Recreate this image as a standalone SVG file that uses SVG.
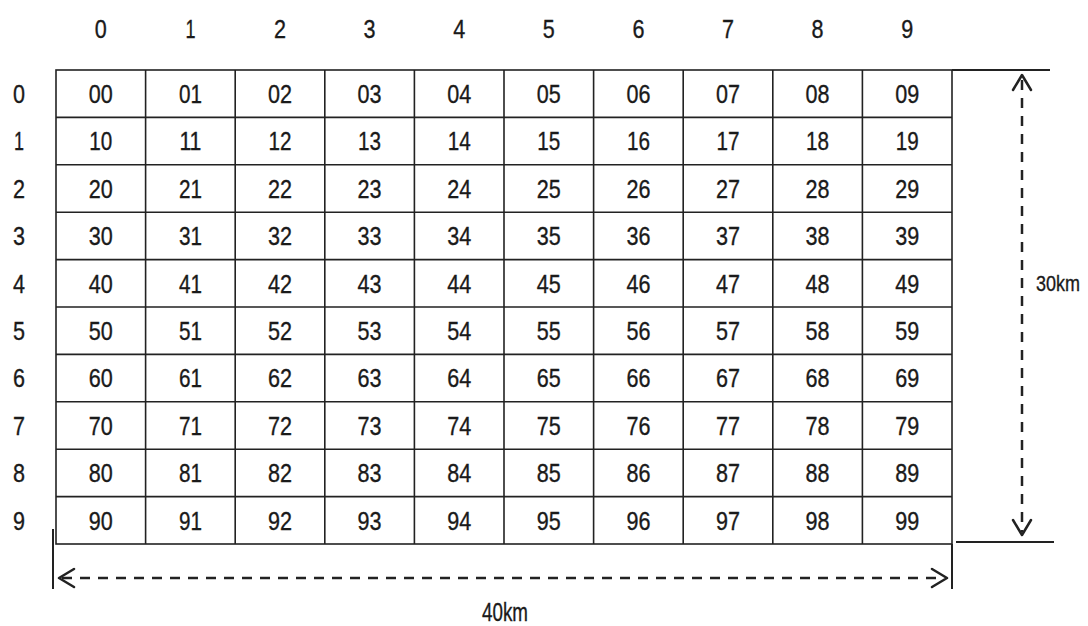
<svg xmlns="http://www.w3.org/2000/svg" width="1088" height="626" viewBox="0 0 1088 626">
<style>
text{font-family:"Liberation Sans",Arial,sans-serif;font-size:25.5px;fill:#1a1a1a;stroke:#1a1a1a;stroke-width:0.35;text-anchor:middle}
.g{stroke:#222;stroke-width:1.6;fill:none}
.d{stroke:#222;stroke-width:2.5;fill:none;stroke-dasharray:10 8}
.h{stroke:#222;stroke-width:2.5;fill:none;stroke-linecap:round;stroke-linejoin:round}
.e{stroke:#222;stroke-width:2;fill:none}
</style>
<rect width="1088" height="626" fill="#fff"/>
<g id="col-labels">
<text x="100.8" y="38" textLength="12" lengthAdjust="spacingAndGlyphs">0</text>
<text x="190.4" y="38" textLength="10" lengthAdjust="spacingAndGlyphs">1</text>
<text x="280" y="38" textLength="12" lengthAdjust="spacingAndGlyphs">2</text>
<text x="369.6" y="38" textLength="12" lengthAdjust="spacingAndGlyphs">3</text>
<text x="459.2" y="38" textLength="12" lengthAdjust="spacingAndGlyphs">4</text>
<text x="548.8" y="38" textLength="12" lengthAdjust="spacingAndGlyphs">5</text>
<text x="638.4" y="38" textLength="12" lengthAdjust="spacingAndGlyphs">6</text>
<text x="728" y="38" textLength="12" lengthAdjust="spacingAndGlyphs">7</text>
<text x="817.6" y="38" textLength="12" lengthAdjust="spacingAndGlyphs">8</text>
<text x="907.2" y="38" textLength="12" lengthAdjust="spacingAndGlyphs">9</text>
</g>
<g id="row-labels">
<text x="19" y="103" textLength="12" lengthAdjust="spacingAndGlyphs">0</text>
<text x="19" y="150.4" textLength="10" lengthAdjust="spacingAndGlyphs">1</text>
<text x="19" y="197.8" textLength="12" lengthAdjust="spacingAndGlyphs">2</text>
<text x="19" y="245.2" textLength="12" lengthAdjust="spacingAndGlyphs">3</text>
<text x="19" y="292.6" textLength="12" lengthAdjust="spacingAndGlyphs">4</text>
<text x="19" y="340" textLength="12" lengthAdjust="spacingAndGlyphs">5</text>
<text x="19" y="387.4" textLength="12" lengthAdjust="spacingAndGlyphs">6</text>
<text x="19" y="434.8" textLength="12" lengthAdjust="spacingAndGlyphs">7</text>
<text x="19" y="482.2" textLength="12" lengthAdjust="spacingAndGlyphs">8</text>
<text x="19" y="529.6" textLength="12" lengthAdjust="spacingAndGlyphs">9</text>
</g>
<g id="grid">
<rect class="g" x="56" y="70" width="896" height="474"/>
<path class="g" d="M145.6 70V544M235.2 70V544M324.8 70V544M414.4 70V544M504 70V544M593.6 70V544M683.2 70V544M772.8 70V544M862.4 70V544M56 117.4H952M56 164.8H952M56 212.2H952M56 259.6H952M56 307H952M56 354.4H952M56 401.8H952M56 449.2H952M56 496.6H952"/>
</g>
<g id="cells">
<text x="100.8" y="103" textLength="24" lengthAdjust="spacingAndGlyphs">00</text><text x="190.4" y="103" textLength="23" lengthAdjust="spacingAndGlyphs">01</text><text x="280" y="103" textLength="24" lengthAdjust="spacingAndGlyphs">02</text><text x="369.6" y="103" textLength="24" lengthAdjust="spacingAndGlyphs">03</text><text x="459.2" y="103" textLength="24" lengthAdjust="spacingAndGlyphs">04</text><text x="548.8" y="103" textLength="24" lengthAdjust="spacingAndGlyphs">05</text><text x="638.4" y="103" textLength="24" lengthAdjust="spacingAndGlyphs">06</text><text x="728" y="103" textLength="24" lengthAdjust="spacingAndGlyphs">07</text><text x="817.6" y="103" textLength="24" lengthAdjust="spacingAndGlyphs">08</text><text x="907.2" y="103" textLength="24" lengthAdjust="spacingAndGlyphs">09</text>
<text x="100.8" y="150.4" textLength="23" lengthAdjust="spacingAndGlyphs">10</text><text x="190.4" y="150.4" textLength="22" lengthAdjust="spacingAndGlyphs">11</text><text x="280" y="150.4" textLength="23" lengthAdjust="spacingAndGlyphs">12</text><text x="369.6" y="150.4" textLength="23" lengthAdjust="spacingAndGlyphs">13</text><text x="459.2" y="150.4" textLength="23" lengthAdjust="spacingAndGlyphs">14</text><text x="548.8" y="150.4" textLength="23" lengthAdjust="spacingAndGlyphs">15</text><text x="638.4" y="150.4" textLength="23" lengthAdjust="spacingAndGlyphs">16</text><text x="728" y="150.4" textLength="23" lengthAdjust="spacingAndGlyphs">17</text><text x="817.6" y="150.4" textLength="23" lengthAdjust="spacingAndGlyphs">18</text><text x="907.2" y="150.4" textLength="23" lengthAdjust="spacingAndGlyphs">19</text>
<text x="100.8" y="197.8" textLength="24" lengthAdjust="spacingAndGlyphs">20</text><text x="190.4" y="197.8" textLength="23" lengthAdjust="spacingAndGlyphs">21</text><text x="280" y="197.8" textLength="24" lengthAdjust="spacingAndGlyphs">22</text><text x="369.6" y="197.8" textLength="24" lengthAdjust="spacingAndGlyphs">23</text><text x="459.2" y="197.8" textLength="24" lengthAdjust="spacingAndGlyphs">24</text><text x="548.8" y="197.8" textLength="24" lengthAdjust="spacingAndGlyphs">25</text><text x="638.4" y="197.8" textLength="24" lengthAdjust="spacingAndGlyphs">26</text><text x="728" y="197.8" textLength="24" lengthAdjust="spacingAndGlyphs">27</text><text x="817.6" y="197.8" textLength="24" lengthAdjust="spacingAndGlyphs">28</text><text x="907.2" y="197.8" textLength="24" lengthAdjust="spacingAndGlyphs">29</text>
<text x="100.8" y="245.2" textLength="24" lengthAdjust="spacingAndGlyphs">30</text><text x="190.4" y="245.2" textLength="23" lengthAdjust="spacingAndGlyphs">31</text><text x="280" y="245.2" textLength="24" lengthAdjust="spacingAndGlyphs">32</text><text x="369.6" y="245.2" textLength="24" lengthAdjust="spacingAndGlyphs">33</text><text x="459.2" y="245.2" textLength="24" lengthAdjust="spacingAndGlyphs">34</text><text x="548.8" y="245.2" textLength="24" lengthAdjust="spacingAndGlyphs">35</text><text x="638.4" y="245.2" textLength="24" lengthAdjust="spacingAndGlyphs">36</text><text x="728" y="245.2" textLength="24" lengthAdjust="spacingAndGlyphs">37</text><text x="817.6" y="245.2" textLength="24" lengthAdjust="spacingAndGlyphs">38</text><text x="907.2" y="245.2" textLength="24" lengthAdjust="spacingAndGlyphs">39</text>
<text x="100.8" y="292.6" textLength="24" lengthAdjust="spacingAndGlyphs">40</text><text x="190.4" y="292.6" textLength="23" lengthAdjust="spacingAndGlyphs">41</text><text x="280" y="292.6" textLength="24" lengthAdjust="spacingAndGlyphs">42</text><text x="369.6" y="292.6" textLength="24" lengthAdjust="spacingAndGlyphs">43</text><text x="459.2" y="292.6" textLength="24" lengthAdjust="spacingAndGlyphs">44</text><text x="548.8" y="292.6" textLength="24" lengthAdjust="spacingAndGlyphs">45</text><text x="638.4" y="292.6" textLength="24" lengthAdjust="spacingAndGlyphs">46</text><text x="728" y="292.6" textLength="24" lengthAdjust="spacingAndGlyphs">47</text><text x="817.6" y="292.6" textLength="24" lengthAdjust="spacingAndGlyphs">48</text><text x="907.2" y="292.6" textLength="24" lengthAdjust="spacingAndGlyphs">49</text>
<text x="100.8" y="340" textLength="24" lengthAdjust="spacingAndGlyphs">50</text><text x="190.4" y="340" textLength="23" lengthAdjust="spacingAndGlyphs">51</text><text x="280" y="340" textLength="24" lengthAdjust="spacingAndGlyphs">52</text><text x="369.6" y="340" textLength="24" lengthAdjust="spacingAndGlyphs">53</text><text x="459.2" y="340" textLength="24" lengthAdjust="spacingAndGlyphs">54</text><text x="548.8" y="340" textLength="24" lengthAdjust="spacingAndGlyphs">55</text><text x="638.4" y="340" textLength="24" lengthAdjust="spacingAndGlyphs">56</text><text x="728" y="340" textLength="24" lengthAdjust="spacingAndGlyphs">57</text><text x="817.6" y="340" textLength="24" lengthAdjust="spacingAndGlyphs">58</text><text x="907.2" y="340" textLength="24" lengthAdjust="spacingAndGlyphs">59</text>
<text x="100.8" y="387.4" textLength="24" lengthAdjust="spacingAndGlyphs">60</text><text x="190.4" y="387.4" textLength="23" lengthAdjust="spacingAndGlyphs">61</text><text x="280" y="387.4" textLength="24" lengthAdjust="spacingAndGlyphs">62</text><text x="369.6" y="387.4" textLength="24" lengthAdjust="spacingAndGlyphs">63</text><text x="459.2" y="387.4" textLength="24" lengthAdjust="spacingAndGlyphs">64</text><text x="548.8" y="387.4" textLength="24" lengthAdjust="spacingAndGlyphs">65</text><text x="638.4" y="387.4" textLength="24" lengthAdjust="spacingAndGlyphs">66</text><text x="728" y="387.4" textLength="24" lengthAdjust="spacingAndGlyphs">67</text><text x="817.6" y="387.4" textLength="24" lengthAdjust="spacingAndGlyphs">68</text><text x="907.2" y="387.4" textLength="24" lengthAdjust="spacingAndGlyphs">69</text>
<text x="100.8" y="434.8" textLength="24" lengthAdjust="spacingAndGlyphs">70</text><text x="190.4" y="434.8" textLength="23" lengthAdjust="spacingAndGlyphs">71</text><text x="280" y="434.8" textLength="24" lengthAdjust="spacingAndGlyphs">72</text><text x="369.6" y="434.8" textLength="24" lengthAdjust="spacingAndGlyphs">73</text><text x="459.2" y="434.8" textLength="24" lengthAdjust="spacingAndGlyphs">74</text><text x="548.8" y="434.8" textLength="24" lengthAdjust="spacingAndGlyphs">75</text><text x="638.4" y="434.8" textLength="24" lengthAdjust="spacingAndGlyphs">76</text><text x="728" y="434.8" textLength="24" lengthAdjust="spacingAndGlyphs">77</text><text x="817.6" y="434.8" textLength="24" lengthAdjust="spacingAndGlyphs">78</text><text x="907.2" y="434.8" textLength="24" lengthAdjust="spacingAndGlyphs">79</text>
<text x="100.8" y="482.2" textLength="24" lengthAdjust="spacingAndGlyphs">80</text><text x="190.4" y="482.2" textLength="23" lengthAdjust="spacingAndGlyphs">81</text><text x="280" y="482.2" textLength="24" lengthAdjust="spacingAndGlyphs">82</text><text x="369.6" y="482.2" textLength="24" lengthAdjust="spacingAndGlyphs">83</text><text x="459.2" y="482.2" textLength="24" lengthAdjust="spacingAndGlyphs">84</text><text x="548.8" y="482.2" textLength="24" lengthAdjust="spacingAndGlyphs">85</text><text x="638.4" y="482.2" textLength="24" lengthAdjust="spacingAndGlyphs">86</text><text x="728" y="482.2" textLength="24" lengthAdjust="spacingAndGlyphs">87</text><text x="817.6" y="482.2" textLength="24" lengthAdjust="spacingAndGlyphs">88</text><text x="907.2" y="482.2" textLength="24" lengthAdjust="spacingAndGlyphs">89</text>
<text x="100.8" y="529.6" textLength="24" lengthAdjust="spacingAndGlyphs">90</text><text x="190.4" y="529.6" textLength="23" lengthAdjust="spacingAndGlyphs">91</text><text x="280" y="529.6" textLength="24" lengthAdjust="spacingAndGlyphs">92</text><text x="369.6" y="529.6" textLength="24" lengthAdjust="spacingAndGlyphs">93</text><text x="459.2" y="529.6" textLength="24" lengthAdjust="spacingAndGlyphs">94</text><text x="548.8" y="529.6" textLength="24" lengthAdjust="spacingAndGlyphs">95</text><text x="638.4" y="529.6" textLength="24" lengthAdjust="spacingAndGlyphs">96</text><text x="728" y="529.6" textLength="24" lengthAdjust="spacingAndGlyphs">97</text><text x="817.6" y="529.6" textLength="24" lengthAdjust="spacingAndGlyphs">98</text><text x="907.2" y="529.6" textLength="24" lengthAdjust="spacingAndGlyphs">99</text>
</g>
<g id="connectors">
<path class="e" d="M952 70H1050M956 542H1054"/>
<path class="e" d="M53 529V589M952 544V589"/>
<path class="d" d="M1022 80V532"/>
<path class="h" d="M1013 90L1022 75L1031 90M1013 520L1022 535L1031 520"/>
<path class="d" d="M62 578H944"/>
<path class="h" d="M74 569L59 578L74 587M932 569L947 578L932 587"/>
</g>
<g id="dimension-labels">
<text x="1058" y="291" textLength="44" lengthAdjust="spacingAndGlyphs" style="font-size:22.5px">30km</text>
<text x="505" y="621" textLength="46" lengthAdjust="spacingAndGlyphs">40km</text>
</g>
</svg>
